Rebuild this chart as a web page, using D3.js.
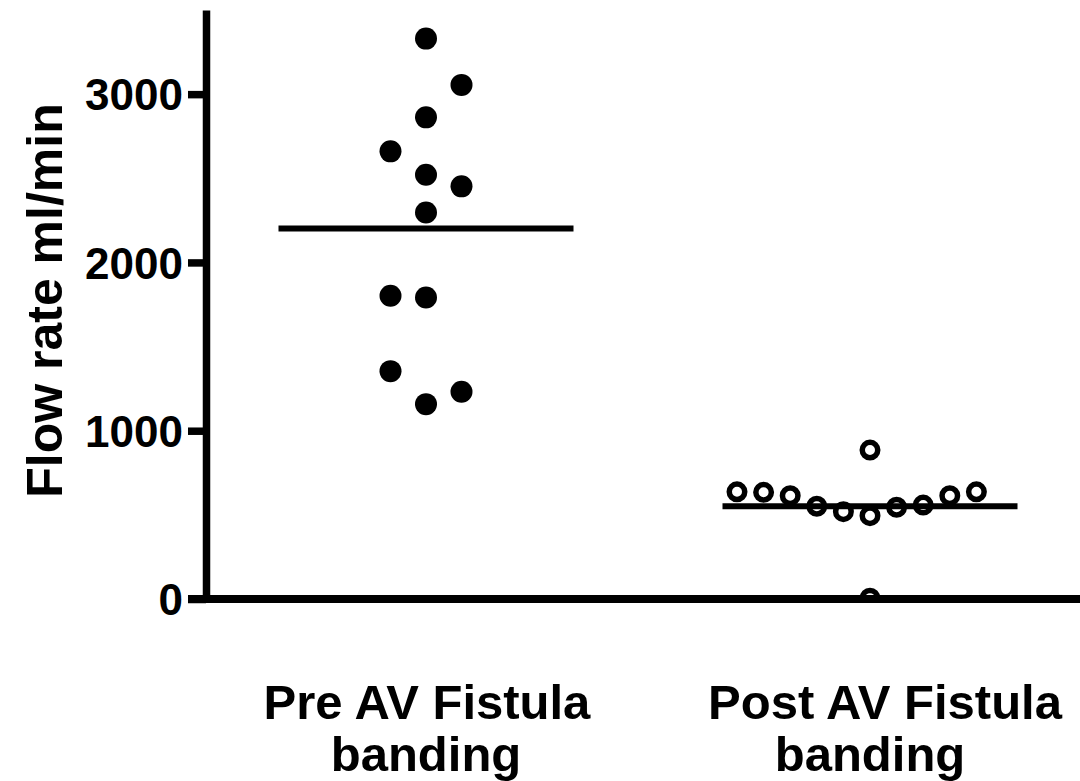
<!DOCTYPE html>
<html>
<head>
<meta charset="utf-8">
<script src="https://cdn.jsdelivr.net/npm/d3@7"></script>
<style>
  html, body { margin: 0; padding: 0; background: #fff; }
  svg text { font-family: Arial, "Liberation Sans", sans-serif; font-weight: bold; fill: #000; }
</style>
</head>
<body>
<div id="chart"></div>
<script>
// Flow rate before / after AV fistula banding (ml/min)
const groups = ['Pre', 'Post'];
const groupLabels = [['Pre AV Fistula', 'banding'], ['Post AV Fistula', 'banding']];

const preValues  = [3330, 3055, 2862, 2660, 2521, 2452, 2297, 1802, 1792, 1354, 1232, 1158];
const preSlots   = [0, 1, 0, -1, 0, 1, 0, -1, 0, -1, 1, 0];
const postValues = [885, 637, 634, 614, 551, 519, 495, 545, 558, 614, 637, 5];
const postSlots  = [0, -5, -4, -3, -2, -1, 0, 1, 2, 3, 4, 0];
const groupMeans = [2202, 551];

const yTicks = [0, 1000, 2000, 3000];
const yTitle = 'Flow rate ml/min';

const W = 1080, H = 781;
const M = { top: 10, left: 206, bottom: 599 };

const svg = d3.select('#chart').append('svg')
  .attr('width', W).attr('height', H);

const y = d3.scaleLinear().domain([0, 3500]).range([M.bottom, M.top]);
const x = d3.scaleBand().domain(groups).range([M.left - 2, M.left - 2 + 888]).padding(0);
const slotPre  = d3.scaleLinear().domain([-1, 1]).range([-35.5, 35.5]);
const slotPost = d3.scaleLinear().domain([-1, 1]).range([-26.6, 26.6]);

const points = [
  ...preValues.map((v, i) => ({ g: 'Pre', v, s: preSlots[i] })),
  ...postValues.map((v, i) => ({ g: 'Post', v, s: postSlots[i] }))
];

// clip marks to the plot area (the point at ~0 is cut by the axis)
svg.append('clipPath').attr('id', 'plot-clip')
  .append('rect')
    .attr('x', M.left).attr('y', 0)
    .attr('width', W - M.left).attr('height', y(0));

// Y axis
const yAxis = svg.append('g')
  .attr('transform', `translate(${M.left},0)`)
  .call(d3.axisLeft(y).tickValues(yTicks).tickFormat(d3.format('d'))
    .tickSize(18).tickPadding(5).tickSizeOuter(0));
yAxis.select('.domain').attr('stroke', '#000').attr('stroke-width', 7.5);
yAxis.selectAll('.tick line').attr('stroke', '#000').attr('stroke-width', 7.5);
yAxis.selectAll('.tick text').style('font-size', '44px').attr('dy', '0.36em');

// Y title
svg.append('text')
  .attr('transform', `translate(62,${(y(0) + y(3500)) / 2 - 4}) rotate(-90)`)
  .attr('text-anchor', 'middle')
  .style('font-size', '50px')
  .text(yTitle);

// Category labels
const labelDx = [[1, 0], [15, 0]];
groups.forEach((g, gi) => {
  groupLabels[gi].forEach((line, li) => {
    svg.append('text')
      .attr('x', x(g) + x.bandwidth() / 2 + labelDx[gi][li])
      .attr('y', 719 + li * 52)
      .attr('text-anchor', 'middle')
      .style('font-size', '49px')
      .text(line);
  });
});

// Points
svg.append('g').attr('clip-path', 'url(#plot-clip)')
  .selectAll('circle')
  .data(points)
  .join('circle')
    .attr('cx', d => x(d.g) + x.bandwidth() / 2 + (d.g === 'Pre' ? slotPre(d.s) : slotPost(d.s)))
    .attr('cy', d => y(d.v))
    .attr('r', d => d.g === 'Pre' ? 11 : 7.75)
    .attr('fill', d => d.g === 'Pre' ? '#000' : '#fff')
    .attr('stroke', d => d.g === 'Pre' ? 'none' : '#000')
    .attr('stroke-width', 5.5);

// Mean lines
svg.append('g').selectAll('line')
  .data(groups.map((g, i) => ({ g, m: groupMeans[i] })))
  .join('line')
    .attr('x1', d => x(d.g) + x.bandwidth() / 2 - 147.5)
    .attr('x2', d => x(d.g) + x.bandwidth() / 2 + 147.5)
    .attr('y1', d => y(d.m)).attr('y2', d => y(d.m))
    .attr('stroke', '#000').attr('stroke-width', 6);

// X axis baseline, drawn over the near-zero point as in the reference
svg.append('line')
  .attr('x1', M.left - 18).attr('x2', W)
  .attr('y1', y(0)).attr('y2', y(0))
  .attr('stroke', '#000').attr('stroke-width', 8);
</script>
</body>
</html>
